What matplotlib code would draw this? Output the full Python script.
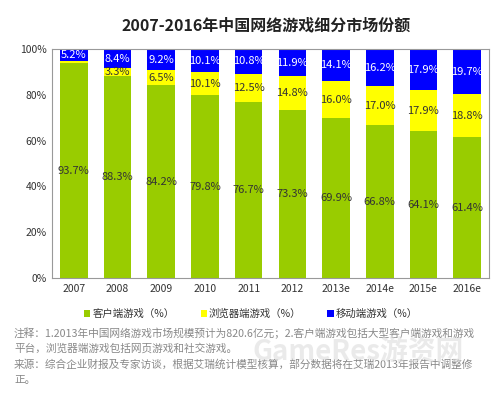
import numpy as np
import matplotlib.pyplot as plt

plt.rcParams['font.family'] = ['Noto Sans CJK SC', 'DejaVu Sans']

years = ['2007', '2008', '2009', '2010', '2011', '2012', '2013e', '2014e', '2015e', '2016e']
client = [93.7, 88.3, 84.2, 79.8, 76.7, 73.3, 69.9, 66.8, 64.1, 61.4]
browser = [1.1, 3.3, 6.5, 10.1, 12.5, 14.8, 16.0, 17.0, 17.9, 18.8]
mobile = [5.2, 8.4, 9.2, 10.1, 10.8, 11.9, 14.1, 16.2, 17.9, 19.7]
series_names = ['客户端游戏（%）', '浏览器端游戏（%）', '移动端游戏（%）']

colors = ['#99cc00', '#ffff00', '#0000ff']

fig = plt.figure(figsize=(4.97, 3.94), dpi=100)
ax = fig.add_axes([52 / 497, 1 - 278 / 394, 437 / 497, 229 / 394])

x = np.arange(len(years))
w = 0.63
client = np.array(client)
browser = np.array(browser)
mobile = np.array(mobile)

b1 = ax.bar(x, client, w, color=colors[0], label=series_names[0])
b2 = ax.bar(x, browser, w, bottom=client, color=colors[1], label=series_names[1])
b3 = ax.bar(x, mobile, w, bottom=client + browser, color=colors[2], label=series_names[2])

for i in range(len(years)):
    ax.text(x[i], client[i] / 2, f'{client[i]:.1f}%', ha='center', va='center',
            fontsize=8, color='#333333')
    if i > 0:
        ax.text(x[i], client[i] + browser[i] / 2, f'{browser[i]:.1f}%', ha='center',
                va='center', fontsize=8, color='#333333')
    ax.text(x[i], client[i] + browser[i] + mobile[i] / 2, f'{mobile[i]:.1f}%',
            ha='center', va='center', fontsize=8, color='white')

ax.set_xlim(-0.5, len(years) - 0.5)
ax.set_ylim(0, 100)
ax.set_yticks(range(0, 101, 20))
ax.set_yticklabels([f'{v}%' for v in range(0, 101, 20)], fontsize=7.5, color='#333333')
ax.set_xticks(x)
ax.set_xticklabels(years, fontsize=7.5, color='#333333')
ax.tick_params(length=0, pad=4)
for s in ax.spines.values():
    s.set_color('#999999')
    s.set_linewidth(0.8)

fig.text(0.535, 1 - 25 / 394, '2007-2016年中国网络游戏细分市场份额', ha='center', va='center',
         fontsize=11.5, fontweight='bold', color='#222222')

fig.legend(handles=[b1, b2, b3], loc='center', bbox_to_anchor=(0.505, 1 - 314 / 394),
           ncol=3, frameon=False, fontsize=7.5, handlelength=0.6, handleheight=0.6,
           handletextpad=0.2, columnspacing=2.5, labelcolor='#333333')

notes = ['注释：1.2013年中国网络游戏市场规模预计为820.6亿元；2.客户端游戏包括大型客户端游戏和游戏',
         '平台，浏览器端游戏包括网页游戏和社交游戏。',
         '来源：综合企业财报及专家访谈，根据艾瑞统计模型核算，部分数据将在艾瑞2013年报告中调整修',
         '正。']
for k, line in enumerate(notes):
    fig.text(14 / 497, 1 - (333 + k * 15.5) / 394, line, ha='left', va='center',
             fontsize=7.7, color='#888888')

fig.text(0.72, 1 - 352 / 394, 'GameRes游资网', ha='center', va='center', fontsize=20,
         color='#dddddd', alpha=0.6, fontweight='bold')

fig.savefig('out.png', dpi=100)
